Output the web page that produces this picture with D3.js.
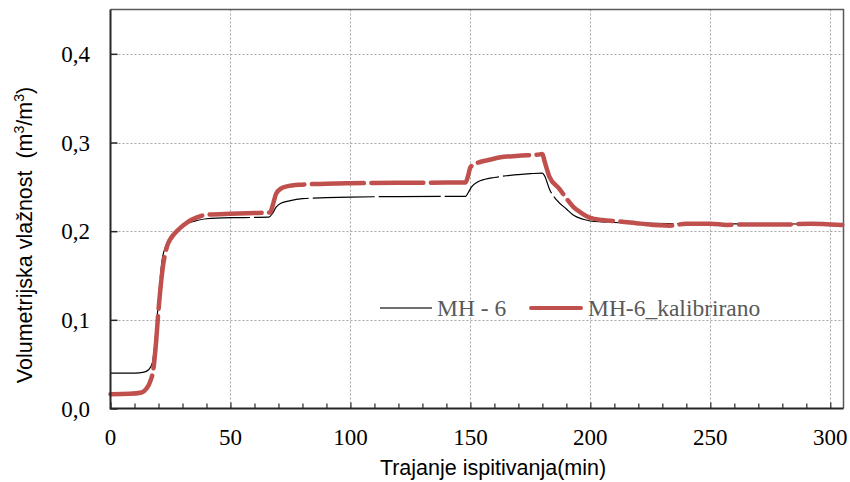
<!DOCTYPE html>
<html>
<head>
<meta charset="utf-8">
<script src="https://cdn.jsdelivr.net/npm/d3@7"></script>
<style>
    html, body { margin: 0; padding: 0; background: #ffffff; }
    svg { display: block; }
</style>
</head>
<body>
<div id="chart"></div>
<script>
'use strict';

// MH - 6 (mjereno)
var timeMh6 = [0, 10, 14, 16, 17.5, 18.5, 19.5, 20.5, 21.5, 23, 25, 28, 32, 36, 40, 50, 60, 66,
    67.5, 69, 71, 75, 80, 90, 100, 120, 140, 148, 149, 150.5, 153, 156, 160, 165, 170, 175, 180,
    181, 183, 186, 190, 193, 197, 200, 205, 210, 220, 240, 270, 305];
var valMh6 = [0.040, 0.040, 0.041, 0.044, 0.052, 0.075, 0.105, 0.140, 0.167, 0.183, 0.194, 0.201,
    0.2085, 0.212, 0.214, 0.2152, 0.2155, 0.2158, 0.220, 0.227, 0.2315, 0.2345, 0.2366, 0.2378,
    0.2385, 0.239, 0.2392, 0.2393, 0.243, 0.250, 0.2555, 0.2585, 0.2605, 0.2625, 0.2638, 0.2648,
    0.2655, 0.262, 0.247, 0.235, 0.225, 0.218, 0.2135, 0.2115, 0.2105, 0.2098, 0.209, 0.2085,
    0.2082, 0.208];

// MH-6_kalibrirano
var timeKal = [0, 8, 13, 15, 16.5, 18, 19, 20, 21, 22, 23, 24, 26, 28, 32, 36, 40, 50, 60, 66.5,
    67.5, 69, 71, 73.5, 79, 90, 100, 120, 140, 148, 149, 150, 152, 154, 158, 162, 170, 179, 180,
    181, 183, 187, 190, 193, 196, 200, 205, 212, 221, 233, 240, 250, 257, 262, 280, 292, 297, 305];
var valKal = [0.0162, 0.0165, 0.018, 0.0225, 0.030, 0.047, 0.075, 0.111, 0.140, 0.163, 0.177,
    0.186, 0.195, 0.201, 0.210, 0.2155, 0.2185, 0.2197, 0.2205, 0.221, 0.228, 0.242, 0.248,
    0.2505, 0.2524, 0.2535, 0.254, 0.2545, 0.2548, 0.255, 0.262, 0.272, 0.276, 0.278, 0.2805,
    0.283, 0.285, 0.2866, 0.287, 0.278, 0.261, 0.248, 0.237, 0.227, 0.221, 0.215, 0.2125, 0.211,
    0.2085, 0.2062, 0.2085, 0.2085, 0.207, 0.2075, 0.2074, 0.2085, 0.2082, 0.207];

var xTicks = [0, 50, 100, 150, 200, 250, 300];
var yTicks = [0, 0.1, 0.2, 0.3, 0.4];
var seriesNames = ['MH - 6', 'MH-6_kalibrirano'];

var width = 850,
    height = 482;

var svg = d3.select('#chart').append('svg')
    .attr('width', width)
    .attr('height', height);

var x = d3.scaleLinear()
    .domain([0, 305.5])
    .range([110.5, 843.5]);

var y = d3.scaleLinear()
    .domain([0, 0.45])
    .range([408.5, 9.5]);

var plotLeft = x.range()[0],
    plotRight = x.range()[1],
    plotBottom = y.range()[0],
    plotTop = y.range()[1];

// grid
var grid = svg.append('g').attr('id', 'grid-layer');

grid.selectAll('line.vgrid')
    .data(xTicks.filter(function(d) { return d > 0; }))
    .enter().append('line')
        .attr('class', 'vgrid')
        .attr('x1', function(d) { return Math.round(x(d)) + 0.5; })
        .attr('x2', function(d) { return Math.round(x(d)) + 0.5; })
        .attr('y1', plotTop)
        .attr('y2', plotBottom)
        .attr('stroke', '#a6a6a6')
        .attr('stroke-width', 1)
        .attr('stroke-dasharray', '2,2');

grid.selectAll('line.hgrid')
    .data(yTicks.filter(function(d) { return d > 0; }))
    .enter().append('line')
        .attr('class', 'hgrid')
        .attr('x1', plotLeft)
        .attr('x2', plotRight)
        .attr('y1', function(d) { return Math.round(y(d)) + 0.5; })
        .attr('y2', function(d) { return Math.round(y(d)) + 0.5; })
        .attr('stroke', '#a6a6a6')
        .attr('stroke-width', 1)
        .attr('stroke-dasharray', '2,2');

// frame (top + right)
svg.append('path')
    .attr('d', 'M ' + plotLeft + ' ' + plotTop + ' L ' + plotRight + ' ' + plotTop + ' L ' + plotRight + ' ' + plotBottom)
    .attr('fill', 'none')
    .attr('stroke', '#595959')
    .attr('stroke-width', 1.5);

// series
var line = d3.line()
    .x(function(d) { return x(d[0]); })
    .y(function(d) { return y(d[1]); })
    .curve(d3.curveMonotoneX);

var mh6 = d3.zip(timeMh6, valMh6),
    kal = d3.zip(timeKal, valKal);

var plot = svg.append('g').attr('id', 'lines-layer');

plot.append('path')
    .datum(mh6)
    .attr('d', line)
    .attr('fill', 'none')
    .attr('stroke', '#000000')
    .attr('stroke-width', 1.2)
    .attr('stroke-dasharray', '62,4');

plot.append('path')
    .datum(kal)
    .attr('d', line)
    .attr('fill', 'none')
    .attr('stroke', '#c0504d')
    .attr('stroke-width', 4.5)
    .attr('stroke-linecap', 'round')
    .attr('stroke-linejoin', 'round')
    .attr('stroke-dasharray', '52,7.5');

// axes
var xAxis = d3.axisBottom(x)
    .tickValues(d3.range(0, 301, 10))
    .tickSizeInner(-5)
    .tickSizeOuter(0)
    .tickFormat('');

var gx = svg.append('g')
    .attr('transform', 'translate(0,' + plotBottom + ')')
    .call(xAxis);
gx.select('.domain').remove();
gx.selectAll('.tick line')
    .attr('stroke', '#262626')
    .attr('stroke-width', 1.2)
    .attr('y2', function(d) { return d % 50 === 0 ? -6 : -5; });

var yAxis = d3.axisLeft(y)
    .tickValues(yTicks)
    .tickSizeInner(-7)
    .tickSizeOuter(0)
    .tickFormat('');

var gy = svg.append('g')
    .attr('transform', 'translate(' + plotLeft + ',0)')
    .call(yAxis);
gy.select('.domain').remove();
gy.selectAll('.tick line')
    .attr('stroke', '#262626')
    .attr('stroke-width', 1.5);

svg.append('path')
    .attr('d', 'M ' + plotLeft + ' ' + plotTop + ' L ' + plotLeft + ' ' + plotBottom + ' L ' + plotRight + ' ' + plotBottom)
    .attr('fill', 'none')
    .attr('stroke', '#262626')
    .attr('stroke-width', 2);

// tick labels
var fmt = d3.format('.1f');

svg.append('g').selectAll('text')
    .data(yTicks)
    .enter().append('text')
        .attr('x', 90)
        .attr('y', function(d) { return y(d) + 8; })
        .attr('text-anchor', 'end')
        .attr('font-family', 'Liberation Serif, Times New Roman, serif')
        .attr('font-size', '23px')
        .attr('fill', '#000000')
        .text(function(d) { return fmt(d).replace('.', ','); });

svg.append('g').selectAll('text')
    .data(xTicks)
    .enter().append('text')
        .attr('x', function(d) { return x(d); })
        .attr('y', 445)
        .attr('text-anchor', 'middle')
        .attr('font-family', 'Liberation Serif, Times New Roman, serif')
        .attr('font-size', '23px')
        .attr('fill', '#000000')
        .text(function(d) { return d; });

// axis titles
svg.append('text')
    .attr('x', 493)
    .attr('y', 475)
    .attr('text-anchor', 'middle')
    .attr('font-family', 'Liberation Sans, Arial, sans-serif')
    .attr('font-size', '21.5px')
    .attr('fill', '#000000')
    .text('Trajanje ispitivanja(min)');

var yTitle = svg.append('text')
    .attr('transform', 'translate(32,235) rotate(-90)')
    .attr('text-anchor', 'middle')
    .attr('font-family', 'Liberation Sans, Arial, sans-serif')
    .attr('font-size', '21.5px')
    .attr('fill', '#000000');
yTitle.append('tspan').text('Volumetrijska vlažnost\u00a0 (m');
yTitle.append('tspan').attr('baseline-shift', 'super').attr('font-size', '14px').text('3');
yTitle.append('tspan').text('/m');
yTitle.append('tspan').attr('baseline-shift', 'super').attr('font-size', '14px').text('3');
yTitle.append('tspan').text(')');

// legend
var legend = svg.append('g').attr('id', 'legend');

legend.append('line')
    .attr('x1', 380).attr('x2', 432)
    .attr('y1', 308).attr('y2', 308)
    .attr('stroke', '#404040')
    .attr('stroke-width', 1.5);

legend.append('text')
    .attr('x', 437)
    .attr('y', 316)
    .attr('font-family', 'Liberation Serif, Times New Roman, serif')
    .attr('font-size', '23.5px')
    .attr('fill', '#595959')
    .text(seriesNames[0]);

legend.append('line')
    .attr('x1', 531).attr('x2', 581)
    .attr('y1', 308).attr('y2', 308)
    .attr('stroke', '#c0504d')
    .attr('stroke-width', 4)
    .attr('stroke-linecap', 'round');

legend.append('text')
    .attr('x', 588)
    .attr('y', 316)
    .attr('font-family', 'Liberation Serif, Times New Roman, serif')
    .attr('font-size', '23.5px')
    .attr('fill', '#595959')
    .text(seriesNames[1]);
</script>
</body>
</html>
